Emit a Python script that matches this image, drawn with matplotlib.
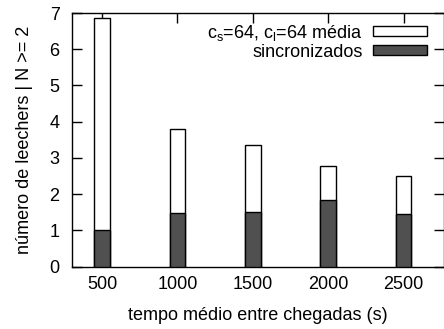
import matplotlib
matplotlib.use("Agg")
import matplotlib.pyplot as plt
from matplotlib.patches import Rectangle

plt.rcParams['font.family'] = ['Liberation Sans', 'DejaVu Sans']
plt.rcParams['mathtext.fontset'] = 'custom'
plt.rcParams['mathtext.rm'] = 'Liberation Sans'
plt.rcParams['mathtext.it'] = 'Liberation Sans'

# dados
tempos = [500, 1000, 1500, 2000, 2500]
media = [6.87, 3.79, 3.37, 2.77, 2.50]
sincronizados = [1.01, 1.49, 1.50, 1.84, 1.45]
yticks = [0, 1, 2, 3, 4, 5, 6, 7]

escuro = "#505050"
largura = 105

fig = plt.figure(figsize=(4.44, 3.29), dpi=100)
ax = fig.add_axes([72 / 444, 62.3 / 329, 371.5 / 444, 253.7 / 329])

ax.bar(tempos, media, width=largura, color="white", edgecolor="black", linewidth=1, zorder=2)
ax.bar(tempos, sincronizados, width=largura, color=escuro, edgecolor="black", linewidth=1, zorder=3)

ax.set_xlim(300, 2765)
ax.set_ylim(0, 7)
ax.set_xticks(tempos)
ax.set_yticks(yticks)
ax.tick_params(direction="in", length=7, width=1, top=True, right=True, labelsize=13, colors="black")
ax.tick_params(axis="x", bottom=False, pad=7)
ax.tick_params(axis="y", pad=9)
for s in ax.spines.values():
    s.set_linewidth(1)

ax.set_xlabel("tempo médio entre chegadas (s)", fontsize=13, labelpad=10)
ax.set_ylabel("número de leechers | N >= 2", fontsize=13, labelpad=12)

handles = [Rectangle((0, 0), 1, 1, facecolor="white", edgecolor="black", linewidth=1),
           Rectangle((0, 0), 1, 1, facecolor=escuro, edgecolor="black", linewidth=1)]
labels = [r"c$_\mathrm{s}$=64, c$_\mathrm{l}$=64 média", "sincronizados"]
leg = ax.legend(handles, labels, loc="upper right", frameon=False, markerfirst=False,
                fontsize=13, handlelength=3.0, handleheight=0.5, labelspacing=0.05,
                handletextpad=0.55, borderaxespad=0.0, borderpad=0.0,
                bbox_to_anchor=(0.955, 0.962))
for t in leg.get_texts():
    t.set_ha("right")

fig.savefig("out.png", dpi=100)
